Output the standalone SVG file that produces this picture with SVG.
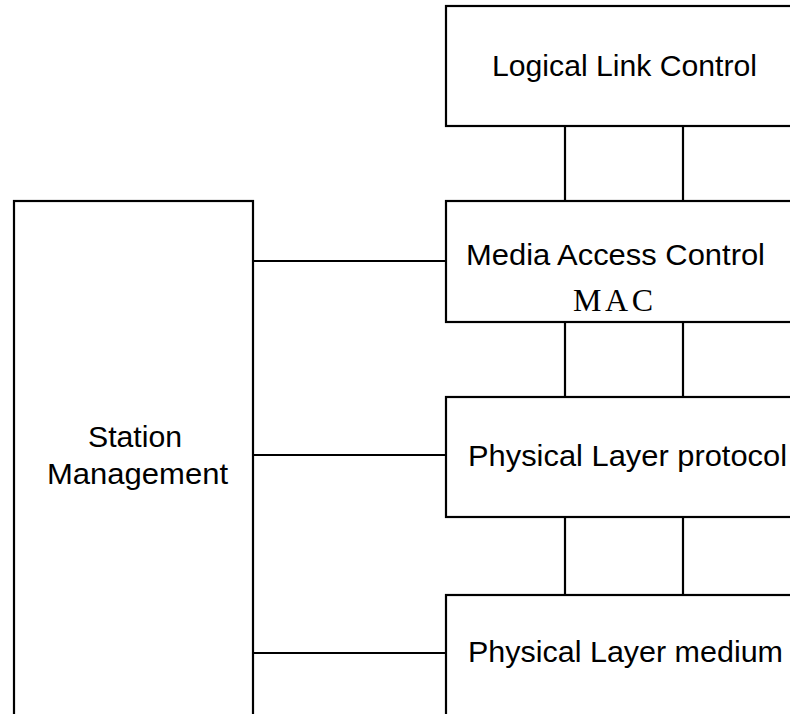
<svg xmlns="http://www.w3.org/2000/svg" width="790" height="714" viewBox="0 0 790 714">
<style>
.box{fill:#fff;stroke:#000;stroke-width:2.2}
.ln{stroke:#000;stroke-width:2.2;fill:none}
.t{font-family:"Liberation Sans",Arial,sans-serif;font-size:30px;fill:#000}
.s{font-family:"Liberation Serif","Times New Roman",serif;font-size:32px;fill:#000}
</style>
<rect width="790" height="714" fill="#fff"/>
<g id="connectors">
<line class="ln" x1="565" y1="126" x2="565" y2="201"/>
<line class="ln" x1="683" y1="126" x2="683" y2="201"/>
<line class="ln" x1="565" y1="322" x2="565" y2="397"/>
<line class="ln" x1="683" y1="322" x2="683" y2="397"/>
<line class="ln" x1="565" y1="517" x2="565" y2="595"/>
<line class="ln" x1="683" y1="517" x2="683" y2="595"/>
<line class="ln" x1="251" y1="261" x2="446" y2="261"/>
<line class="ln" x1="251" y1="455" x2="446" y2="455"/>
<line class="ln" x1="251" y1="653" x2="446" y2="653"/>
</g>
<g id="llc">
<rect class="box" x="446" y="6" width="360" height="120"/>
<text class="t" x="492" y="76" textLength="265" lengthAdjust="spacingAndGlyphs">Logical Link Control</text>
</g>
<g id="mac">
<rect class="box" x="446" y="201" width="360" height="121"/>
<text class="t" x="466" y="265" textLength="299" lengthAdjust="spacingAndGlyphs">Media Access Control</text>
<text class="s" x="573" y="311" textLength="80" lengthAdjust="spacing">MAC</text>
</g>
<g id="plp">
<rect class="box" x="446" y="397" width="360" height="120"/>
<text class="t" x="468" y="466" textLength="319" lengthAdjust="spacingAndGlyphs">Physical Layer protocol</text>
</g>
<g id="plm">
<rect class="box" x="446" y="595" width="360" height="140"/>
<text class="t" x="468" y="662" textLength="315" lengthAdjust="spacingAndGlyphs">Physical Layer medium</text>
</g>
<g id="station">
<rect class="box" x="14" y="201" width="239" height="540"/>
<text class="t" x="88" y="447" textLength="94" lengthAdjust="spacingAndGlyphs">Station</text>
<text class="t" x="47" y="484" textLength="181" lengthAdjust="spacingAndGlyphs">Management</text>
</g>
</svg>
